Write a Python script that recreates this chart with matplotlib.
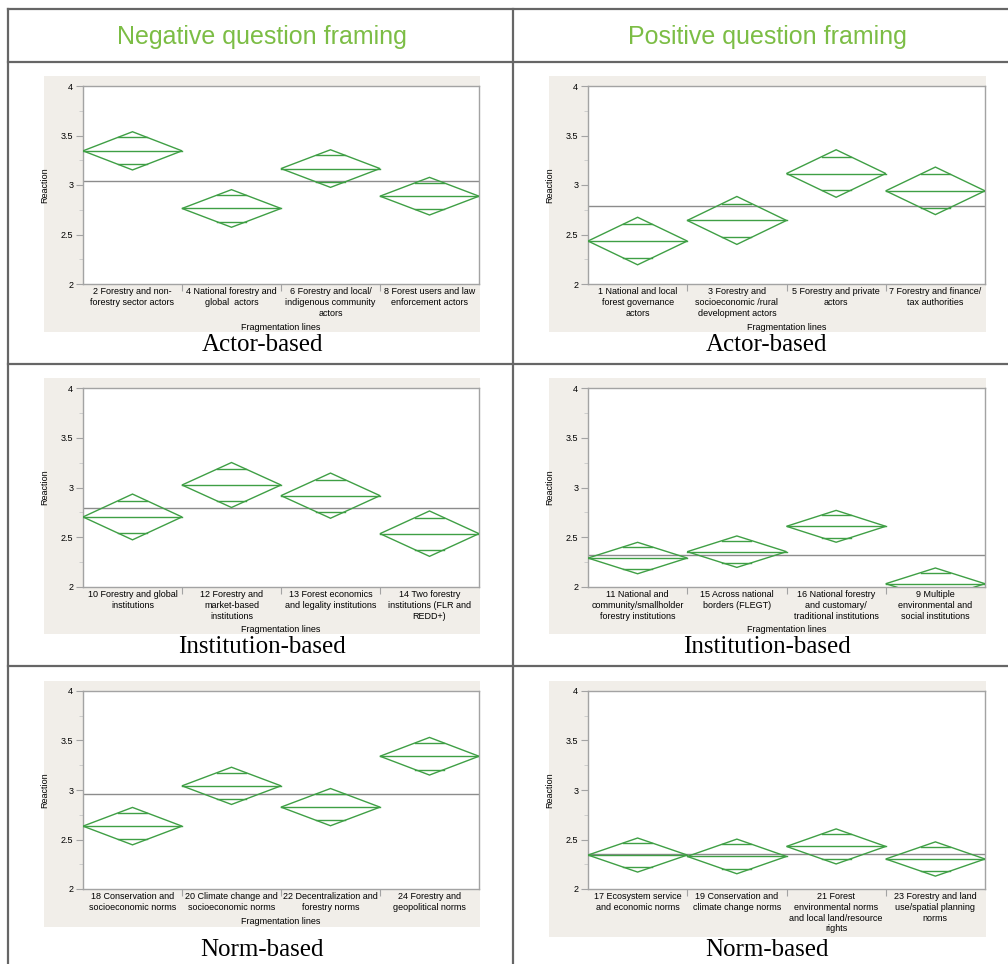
import matplotlib
matplotlib.use("Agg")
import matplotlib.pyplot as plt
import numpy as np
from matplotlib.patches import Rectangle, Polygon
from matplotlib.lines import Line2D

W, H = 1008, 964

# ---- data ----
neg_actor_labels = ["2 Forestry and non-\nforestry sector actors",
                    "4 National forestry and\nglobal  actors",
                    "6 Forestry and local/\nindigenous community\nactors",
                    "8 Forest users and law\nenforcement actors"]
neg_actor_means = [3.345, 2.763, 3.166, 2.887]
neg_actor_ci = [0.193, 0.190, 0.190, 0.190]
neg_actor_grand = 3.042

pos_actor_labels = ["1 National and local\nforest governance\nactors",
                    "3 Forestry and\nsocioeconomic /rural\ndevelopment actors",
                    "5 Forestry and private\nactors",
                    "7 Forestry and finance/\ntax authorities"]
pos_actor_means = [2.434, 2.642, 3.116, 2.941]
pos_actor_ci = [0.240, 0.242, 0.240, 0.240]
pos_actor_grand = 2.787

neg_inst_labels = ["10 Forestry and global\ninstitutions",
                   "12 Forestry and\nmarket-based\ninstitutions",
                   "13 Forest economics\nand legality institutions",
                   "14 Two forestry\ninstitutions (FLR and\nREDD+)"]
neg_inst_means = [2.704, 3.025, 2.918, 2.536]
neg_inst_ci = [0.230, 0.226, 0.227, 0.228]
neg_inst_grand = 2.797

pos_inst_labels = ["11 National and\ncommunity/smallholder\nforestry institutions",
                   "15 Across national\nborders (FLEGT)",
                   "16 National forestry\nand customary/\ntraditional institutions",
                   "9 Multiple\nenvironmental and\nsocial institutions"]
pos_inst_means = [2.291, 2.355, 2.610, 2.033]
pos_inst_ci = [0.158, 0.158, 0.160, 0.158]
pos_inst_grand = 2.322

neg_norm_labels = ["18 Conservation and\nsocioeconomic norms",
                   "20 Climate change and\nsocioeconomic norms",
                   "22 Decentralization and\nforestry norms",
                   "24 Forestry and\ngeopolitical norms"]
neg_norm_means = [2.635, 3.042, 2.827, 3.341]
neg_norm_ci = [0.189, 0.188, 0.188, 0.190]
neg_norm_grand = 2.961

pos_norm_labels = ["17 Ecosystem service\nand economic norms",
                   "19 Conservation and\nclimate change norms",
                   "21 Forest\nenvironmental norms\nand local land/resource\nrights",
                   "23 Forestry and land\nuse/spatial planning\nnorms"]
pos_norm_means = [2.343, 2.329, 2.430, 2.303]
pos_norm_ci = [0.172, 0.175, 0.177, 0.173]
pos_norm_grand = 2.350

headers = ["Negative question framing", "Positive question framing"]
row_titles = ["Actor-based", "Institution-based", "Norm-based"]

GREEN = "#3f9f45"
HEAD_GREEN = "#7cbd45"
BG = "#f1eee9"
FRAME = "#a3a3a3"
TABLE = "#666666"


def fx(x):
    return x / W


def fy(y):
    return 1 - y / H


def draw_panel(fig, frame, bg, labels, means, cis, grand, xlabel_y):
    x0, y0, x1, y1 = frame
    fig.patches.append(Rectangle((fx(bg[0]), fy(bg[3])), fx(bg[2]) - fx(bg[0]),
                                 fy(bg[1]) - fy(bg[3]), transform=fig.transFigure,
                                 facecolor=BG, edgecolor="none", zorder=-5))
    ax = fig.add_axes([fx(x0), fy(y1), fx(x1) - fx(x0), fy(y0) - fy(y1)])
    ax.set_xlim(0, len(means))
    ax.set_ylim(2, 4)
    for s in ax.spines.values():
        s.set_color(FRAME)
        s.set_linewidth(1.0)
    ax.set_yticks([2, 2.5, 3, 3.5, 4])
    ax.set_yticklabels(["2", "2.5", "3", "3.5", "4"])
    ax.set_yticks(np.arange(2, 4.01, 0.25), minor=True)
    ax.tick_params(axis="y", which="major", length=5, width=0.8, color=FRAME,
                   labelsize=6.5, pad=2)
    ax.tick_params(axis="y", which="minor", length=3, width=0.6, color="#c8c8c8")
    ax.set_xticks(np.arange(1, len(means)))
    ax.tick_params(axis="x", length=5, width=0.8, color=FRAME, labelbottom=False)
    ax.set_ylabel("Reaction", fontsize=6.5, labelpad=8)

    ax.axhline(grand, color="#8c8c8c", lw=1.0, zorder=2)
    off_frac = np.sqrt(2) / 2
    hw = 0.5 * (1 - off_frac)
    for i, (m, c) in enumerate(zip(means, cis)):
        cx = i + 0.5
        pts = [(i, m), (cx, m + c), (i + 1, m), (cx, m - c)]
        ax.add_patch(Polygon(pts, closed=True, fill=False, edgecolor=GREEN,
                             lw=1.0, zorder=3))
        ax.plot([i, i + 1], [m, m], color=GREEN, lw=1.0, zorder=3)
        for yy in (m + c * off_frac, m - c * off_frac):
            ax.plot([cx - hw, cx + hw], [yy, yy], color=GREEN, lw=1.0, zorder=3)
        ax.text(cx, 1.965, labels[i], ha="center", va="top", fontsize=6.5,
                linespacing=1.22, clip_on=False)
    if xlabel_y is not None:
        fig.text(fx((x0 + x1) / 2), fy(xlabel_y), "Fragmentation lines",
                 ha="center", va="center", fontsize=6.5)
    return ax


plt.rcParams["font.family"] = ["Liberation Sans", "DejaVu Sans"]
fig = plt.figure(figsize=(W / 100, H / 100), dpi=100)

panels = [
    (neg_actor_labels, neg_actor_means, neg_actor_ci, neg_actor_grand),
    (pos_actor_labels, pos_actor_means, pos_actor_ci, pos_actor_grand),
    (neg_inst_labels, neg_inst_means, neg_inst_ci, neg_inst_grand),
    (pos_inst_labels, pos_inst_means, pos_inst_ci, pos_inst_grand),
    (neg_norm_labels, neg_norm_means, neg_norm_ci, neg_norm_grand),
    (pos_norm_labels, pos_norm_means, pos_norm_ci, pos_norm_grand),
]

col_frame_x = [(83, 479), (588, 985)]
col_bg_x = [(44, 480), (549, 986)]
row_frame_y = [(86, 284), (388, 587), (691, 889)]
row_bg_y = [[(76, 332), (76, 332)], [(378, 634), (378, 634)], [(681, 927), (681, 937)]]
xlabel_ys = [[327, 327], [630, 630], [922, None]]
caption_y = [345, 647, 950]
col_centers = [262, 767]

for k, (labs, means, cis, grand) in enumerate(panels):
    r, c = divmod(k, 2)
    frame = (col_frame_x[c][0], row_frame_y[r][0], col_frame_x[c][1], row_frame_y[r][1])
    bg = (col_bg_x[c][0], row_bg_y[r][c][0], col_bg_x[c][1], row_bg_y[r][c][1])
    draw_panel(fig, frame, bg, labs, means, cis, grand, xlabel_ys[r][c])
    fig.text(fx(col_centers[c]), fy(caption_y[r]), row_titles[r], ha="center",
             va="center", fontsize=18, family=["Liberation Serif", "DejaVu Serif"])

# header row
for c, h in enumerate(headers):
    fig.text(fx(col_centers[c]), fy(37), h, ha="center", va="center",
             fontsize=18, color=HEAD_GREEN)

# table grid
for y in (9, 62, 364, 666):
    fig.add_artist(Line2D([fx(8), 1], [fy(y), fy(y)], transform=fig.transFigure,
                          color=TABLE, lw=1.6))
for x in (8, 513):
    fig.add_artist(Line2D([fx(x), fx(x)], [fy(9), 0], transform=fig.transFigure,
                          color=TABLE, lw=1.6))

fig.savefig("out.png", dpi=100, facecolor="white")
